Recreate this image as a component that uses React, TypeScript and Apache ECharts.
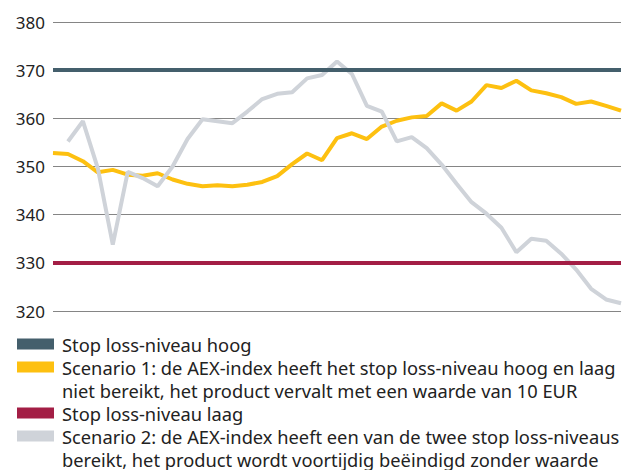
import React, { useEffect, useRef } from "react";
import * as echarts from "echarts";

const categories: string[] = Array.from({ length: 39 }, (_, i) => String(i + 1));

const scenario1: number[] = [
  352.8, 352.6, 351.1, 348.8, 349.3, 348.3, 348.1, 348.6, 347.3, 346.4,
  345.9, 346.1, 345.9, 346.2, 346.8, 348.0, 350.5, 352.7, 351.3, 355.9,
  356.9, 355.7, 358.3, 359.5, 360.2, 360.5, 363.1, 361.6, 363.5, 366.9,
  366.3, 367.8, 365.8, 365.2, 364.4, 363.0, 363.5, 362.6, 361.6,
];

const scenario2: (number | null)[] = [
  null, 355.2, 359.4, 349.6, 333.8, 348.9, 347.6, 345.9, 350.0, 355.7,
  359.8, 359.4, 359.0, 361.4, 364.0, 365.1, 365.4, 368.3, 369.0, 371.8,
  369.2, 362.6, 361.4, 355.2, 356.1, 353.8, 350.4, 346.4, 342.6, 340.2,
  337.3, 332.2, 335.0, 334.6, 331.9, 328.6, 324.6, 322.4, 321.6,
];

const STOP_HIGH = 370;
const STOP_LOW = 330;

const Y_MIN = 320;
const Y_MAX = 380;
const Y_STEP = 10;

const legendLabels: string[][] = [
  ["Stop loss-niveau hoog"],
  [
    "Scenario 1: de AEX-index heeft het stop loss-niveau hoog en laag",
    "niet bereikt, het product vervalt met een waarde van 10 EUR",
  ],
  ["Stop loss-niveau laag"],
  [
    "Scenario 2: de AEX-index heeft een van de twee stop loss-niveaus",
    "bereikt, het product wordt voortijdig beëindigd zonder waarde",
  ],
];

const COLORS = {
  high: "#445f6c",
  s1: "#fdc010",
  low: "#a31e45",
  s2: "#cfd3d9",
  grid: "#858585",
  text: "#222222",
};

const legendColors = [COLORS.high, COLORS.s1, COLORS.low, COLORS.s2];
const FONT = "'Noto Sans', 'Open Sans', sans-serif";

export default function App() {
  const ref = useRef<HTMLDivElement>(null);

  useEffect(() => {
    if (!ref.current) return;
    const chart = echarts.init(ref.current, null, { renderer: "svg" });

    const rowH = 23;
    const legendTop = 344;
    const graphics: any[] = [];
    let row = 0;
    legendLabels.forEach((lines, i) => {
      const cy = legendTop + row * rowH;
      graphics.push({
        type: "rect",
        shape: { x: 17, y: cy - 5.5, width: 37, height: 11 },
        style: { fill: legendColors[i] },
        silent: true,
      });
      lines.forEach((line, j) => {
        graphics.push({
          type: "text",
          x: 62,
          y: cy + j * rowH,
          style: {
            text: line,
            fill: COLORS.text,
            fontSize: 18.3,
            fontFamily: FONT,
            verticalAlign: "middle",
            align: "left",
          },
          silent: true,
        });
      });
      row += lines.length;
    });

    chart.setOption({
      animation: false,
      grid: { left: 53, right: 1, top: 22, bottom: 159, containLabel: false },
      xAxis: {
        type: "category",
        data: categories,
        boundaryGap: false,
        axisLine: { show: false },
        axisTick: { show: false },
        axisLabel: { show: false },
        splitLine: { show: false },
      },
      yAxis: {
        type: "value",
        min: Y_MIN,
        max: Y_MAX,
        interval: Y_STEP,
        axisLine: { show: false },
        axisTick: { show: false },
        axisLabel: {
          color: COLORS.text,
          fontSize: 17,
          fontFamily: FONT,
          margin: 8,
        },
        splitLine: { show: true, lineStyle: { color: COLORS.grid, width: 1 } },
      },
      graphic: graphics,
      series: [
        {
          name: "Stop loss-niveau hoog",
          type: "line",
          data: [],
          silent: true,
          markLine: {
            silent: true,
            symbol: "none",
            label: { show: false },
            lineStyle: { color: COLORS.high, width: 4, type: "solid" },
            data: [{ yAxis: STOP_HIGH }],
          },
        },
        {
          name: "Scenario 1",
          type: "line",
          data: scenario1,
          showSymbol: false,
          lineStyle: { color: COLORS.s1, width: 4 },
          itemStyle: { color: COLORS.s1 },
        },
        {
          name: "Stop loss-niveau laag",
          type: "line",
          data: [],
          silent: true,
          markLine: {
            silent: true,
            symbol: "none",
            label: { show: false },
            lineStyle: { color: COLORS.low, width: 4, type: "solid" },
            data: [{ yAxis: STOP_LOW }],
          },
        },
        {
          name: "Scenario 2",
          type: "line",
          data: scenario2,
          showSymbol: false,
          lineStyle: { color: COLORS.s2, width: 4 },
          itemStyle: { color: COLORS.s2 },
        },
      ],
    });

    return () => chart.dispose();
  }, []);

  return (
    <div
      ref={ref}
      style={{ position: "absolute", left: 0, top: 0, width: 622, height: 470 }}
    />
  );
}
